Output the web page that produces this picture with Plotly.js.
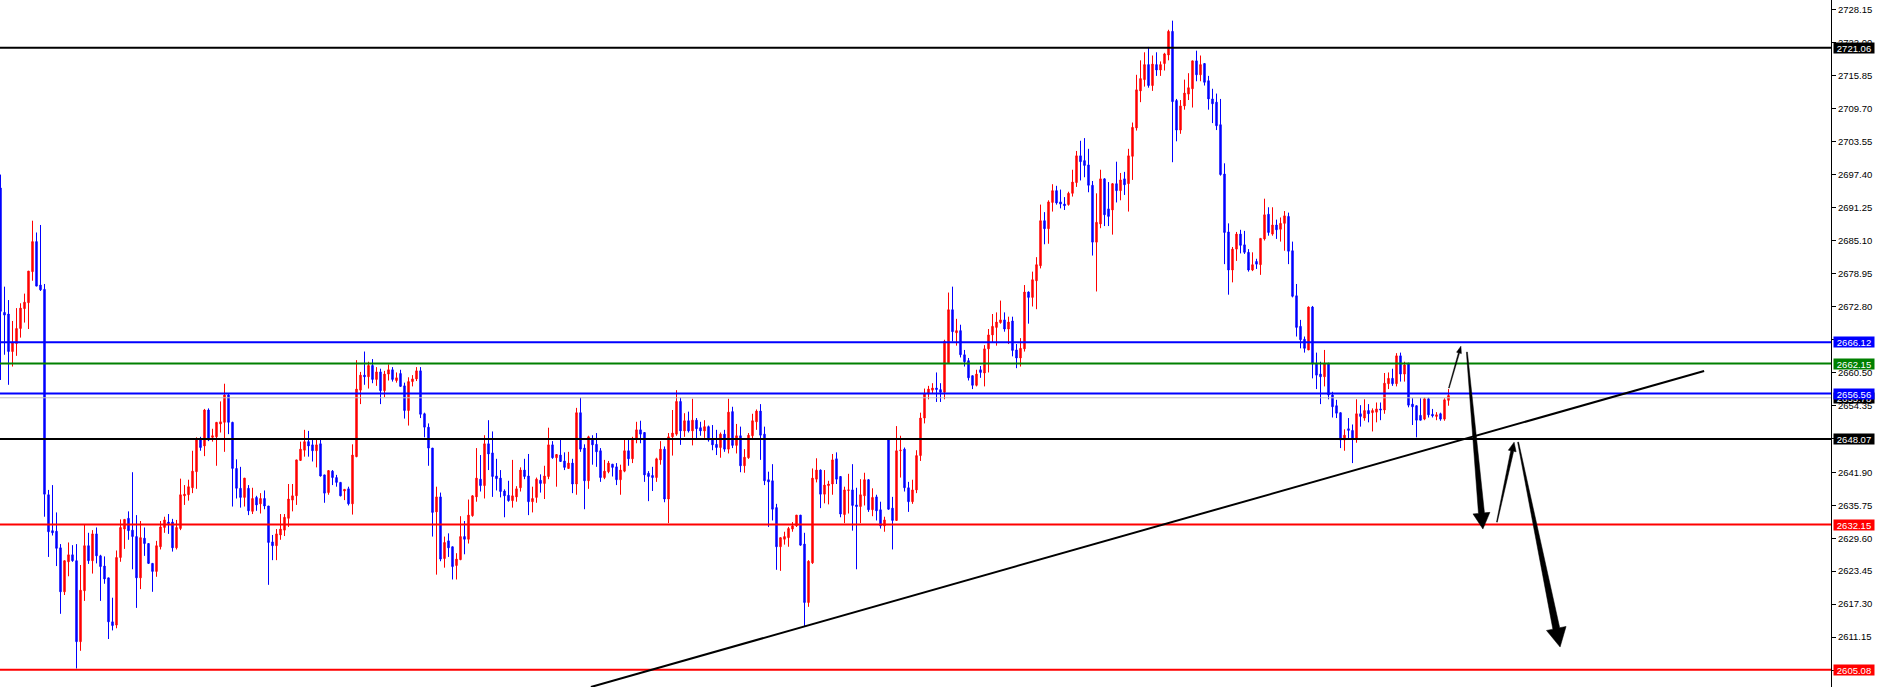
<!DOCTYPE html>
<html>
<head>
<meta charset="utf-8">
<script src="https://cdn.plot.ly/plotly-3.0.1.min.js"></script>
<style>
html,body{margin:0;padding:0;background:#fff;}
#chart{width:1878px;height:687px;}
</style>
</head>
<body>
<div id="chart"></div>
<script>
// ---- candle data (one bar per period, left to right) ----
const open = [
2694.9,2671.7,2671.4,2664.4,2665.9,2668.7,2672.4,2673.5,2679.3,2684.9,
2676.8,2676.0,2637.7,2631.0,2630.9,2627.8,2619.6,2625.2,2626.5,2625.4,
2610.3,2619.8,2628.2,2625.4,2630.4,2626.3,2624.4,2622.2,2614.0,2613.4,
2626.0,2631.3,2633.3,2631.1,2629.9,2622.2,2629.6,2628.6,2624.9,2623.4,
2628.0,2631.6,2632.6,2632.6,2627.8,2631.4,2637.5,2637.7,2639.0,2642.0,
2647.9,2646.8,2653.5,2648.4,2648.5,2650.9,2651.2,2656.3,2651.2,2642.6,
2638.9,2637.2,2638.9,2634.6,2637.2,2636.0,2637.0,2635.6,2628.9,2628.2,
2630.2,2631.1,2633.3,2636.7,2637.5,2644.1,2646.0,2647.6,2647.0,2645.9,
2647.2,2641.4,2638.1,2642.1,2640.9,2640.0,2638.4,2638.8,2636.0,2644.8,
2657.2,2660.0,2659.7,2661.8,2659.2,2660.6,2657.1,2660.2,2661.0,2659.0,
2660.3,2658.0,2653.4,2658.8,2659.3,2660.8,2652.8,2650.3,2646.4,2634.5,
2637.3,2625.8,2629.1,2628.0,2624.5,2625.6,2629.9,2629.4,2633.8,2637.3,
2640.6,2639.4,2647.2,2645.5,2641.2,2640.8,2638.4,2637.6,2636.6,2637.3,
2639.0,2642.3,2641.2,2636.4,2637.2,2640.4,2639.8,2641.1,2647.0,2644.6,
2645.1,2644.0,2642.6,2643.6,2639.7,2653.0,2646.4,2640.3,2648.1,2647.1,
2645.9,2640.9,2642.0,2643.4,2642.9,2640.5,2642.1,2645.9,2644.4,2648.2,
2649.8,2649.3,2641.7,2641.3,2640.9,2644.2,2646.2,2636.9,2648.5,2649.0,
2655.1,2649.6,2651.5,2649.6,2651.6,2650.2,2649.6,2650.4,2647.9,2647.1,
2646.5,2649.0,2646.2,2653.2,2646.9,2648.7,2643.1,2644.6,2648.7,2651.3,
2653.3,2649.0,2640.5,2640.3,2635.3,2628.0,2629.4,2629.7,2631.3,2631.9,
2633.9,2628.5,2617.6,2625.0,2640.6,2642.3,2637.8,2639.4,2639.7,2644.4,
2641.1,2634.0,2638.5,2638.6,2635.8,2635.5,2637.5,2640.5,2634.9,2637.3,
2634.9,2631.9,2647.9,2635.2,2632.9,2645.9,2646.2,2639.0,2636.4,2638.6,
2645.0,2652.0,2656.5,2657.2,2657.6,2657.3,2656.8,2662.3,2672.2,2667.9,
2668.3,2663.8,2662.7,2659.9,2658.1,2661.0,2660.4,2664.9,2667.5,2668.9,
2669.8,2670.3,2668.6,2670.1,2664.7,2663.2,2664.9,2675.5,2674.5,2677.6,
2680.4,2688.8,2687.3,2692.2,2694.4,2692.3,2691.9,2691.8,2693.9,2695.9,
2700.9,2700.0,2699.2,2695.4,2684.8,2688.2,2696.6,2691.0,2690.8,2695.7,
2694.4,2696.6,2695.7,2700.8,2706.1,2713.0,2715.1,2717.9,2714.0,2717.9,
2716.9,2718.1,2719.7,2724.1,2711.2,2705.7,2710.2,2712.4,2713.4,2718.6,
2716.0,2718.1,2714.9,2711.5,2710.9,2706.7,2697.5,2686.7,2679.6,2683.5,
2686.3,2684.3,2682.9,2679.6,2681.2,2680.6,2685.4,2690.0,2686.3,2688.0,
2687.2,2688.3,2689.6,2683.2,2674.8,2669.1,2666.7,2664.7,2672.7,2662.2,
2660.2,2659.7,2662.2,2656.3,2654.3,2653.0,2647.9,2650.0,2649.7,2648.0,
2652.8,2652.0,2653.4,2653.0,2653.1,2653.7,2653.5,2658.4,2659.4,2658.4,
2663.6,2660.2,2662.2,2654.6,2654.3,2652.5,2651.8,2655.6,2652.7,2652.3,
2652.8,2651.8,2655.3
];
const high = [
2697.4,2676.5,2674.0,2670.1,2672.5,2673.4,2675.2,2679.4,2688.8,2686.6,
2688.0,2677.0,2638.6,2639.5,2634.4,2628.5,2625.4,2628.8,2628.3,2628.5,
2624.6,2632.2,2630.6,2631.1,2631.6,2626.5,2626.2,2622.2,2618.5,2627.3,
2633.1,2633.1,2634.6,2641.9,2633.9,2632.8,2631.6,2628.6,2624.9,2629.1,
2632.8,2633.6,2634.1,2633.2,2633.0,2640.7,2639.5,2640.5,2645.9,2648.4,
2648.5,2653.7,2653.8,2650.0,2651.2,2655.1,2658.4,2656.6,2651.3,2644.3,
2642.9,2640.8,2639.5,2639.0,2637.5,2638.0,2638.5,2635.6,2630.2,2631.3,
2634.1,2634.1,2639.7,2639.7,2644.2,2647.6,2649.8,2649.6,2647.9,2647.9,
2648.0,2641.4,2642.3,2642.3,2641.4,2640.0,2638.7,2639.2,2647.1,2662.8,
2660.6,2664.4,2662.5,2663.0,2661.5,2661.2,2660.8,2662.0,2661.5,2660.5,
2661.0,2658.6,2659.6,2660.0,2661.5,2661.5,2653.0,2651.0,2646.4,2639.2,
2638.1,2629.9,2630.5,2628.0,2626.8,2633.7,2632.8,2636.8,2637.6,2646.4,
2645.1,2648.8,2651.6,2649.5,2644.4,2642.3,2638.7,2640.3,2644.2,2639.3,
2642.8,2644.4,2645.3,2639.2,2640.9,2641.5,2643.1,2650.2,2647.7,2645.2,
2648.2,2645.6,2645.7,2644.4,2653.9,2655.8,2647.1,2648.7,2648.8,2649.2,
2646.4,2644.2,2644.0,2643.4,2643.6,2643.3,2648.1,2647.9,2648.5,2651.3,
2651.5,2649.3,2642.1,2642.9,2644.6,2647.7,2646.7,2649.2,2653.5,2657.2,
2655.8,2652.9,2653.2,2655.6,2652.0,2651.3,2651.6,2650.6,2650.7,2649.8,
2649.3,2649.8,2655.6,2654.1,2650.9,2650.4,2646.2,2649.2,2652.8,2653.6,
2654.6,2650.4,2642.0,2643.4,2636.0,2629.7,2630.8,2631.7,2632.6,2633.9,
2633.9,2630.6,2625.5,2642.6,2644.5,2642.4,2642.3,2640.3,2645.3,2645.6,
2641.1,2639.2,2641.6,2643.4,2639.0,2640.6,2641.8,2640.6,2638.9,2637.7,
2636.4,2633.6,2648.1,2637.3,2650.5,2648.7,2646.5,2640.1,2640.5,2646.0,
2653.0,2657.5,2658.0,2658.5,2660.5,2658.5,2666.6,2675.4,2676.5,2670.5,
2669.4,2664.7,2663.2,2659.9,2661.0,2661.7,2665.6,2668.6,2671.4,2671.7,
2673.9,2671.7,2670.9,2670.9,2665.8,2666.9,2676.8,2675.6,2679.3,2682.0,
2691.8,2690.4,2692.6,2695.6,2695.3,2694.6,2693.2,2694.2,2698.3,2701.8,
2703.7,2704.2,2702.2,2696.2,2693.9,2698.3,2696.7,2696.0,2695.8,2699.8,
2697.7,2697.9,2702.2,2707.1,2716.0,2718.7,2720.2,2721.2,2719.6,2720.2,
2718.5,2720.1,2724.4,2726.1,2711.5,2711.3,2715.1,2716.3,2718.6,2720.5,
2719.6,2718.1,2715.8,2713.4,2712.5,2711.5,2699.5,2688.3,2683.9,2686.7,
2687.1,2686.9,2683.5,2682.9,2681.7,2685.5,2692.9,2691.3,2691.3,2689.0,
2689.4,2690.6,2690.3,2684.9,2677.0,2670.3,2667.2,2672.8,2672.9,2664.2,
2662.5,2664.7,2662.3,2656.9,2655.4,2653.0,2649.9,2652.0,2650.8,2655.5,
2654.4,2655.5,2654.6,2653.8,2654.9,2654.9,2660.4,2660.5,2661.2,2664.1,
2664.2,2662.5,2662.3,2655.7,2654.3,2655.7,2655.8,2655.8,2653.7,2653.1,
2653.0,2655.7,2657.4
];
const low = [
2659.1,2663.8,2658.2,2661.6,2663.6,2667.0,2669.8,2668.6,2677.6,2676.6,
2675.7,2633.6,2626.1,2630.1,2624.4,2615.5,2619.0,2622.5,2625.2,2605.3,
2608.6,2617.9,2624.8,2623.0,2624.9,2617.9,2621.1,2610.8,2612.4,2612.8,
2625.2,2627.6,2629.3,2623.8,2616.6,2620.1,2626.3,2624.8,2619.6,2622.4,
2627.5,2630.6,2630.4,2627.1,2627.5,2631.1,2635.8,2636.6,2638.0,2638.8,
2645.9,2644.9,2647.7,2647.6,2643.1,2649.3,2645.7,2649.0,2635.5,2637.0,
2635.3,2635.5,2633.9,2634.1,2634.7,2634.2,2635.0,2620.9,2625.5,2625.5,
2629.3,2630.0,2631.7,2634.6,2635.8,2644.0,2644.8,2644.8,2643.9,2642.8,
2641.1,2636.2,2637.7,2639.5,2639.2,2637.4,2636.7,2635.7,2634.0,2644.7,
2654.6,2658.2,2657.5,2658.5,2658.0,2654.6,2655.9,2659.0,2658.8,2658.6,
2657.9,2651.9,2650.6,2657.9,2658.9,2652.0,2648.4,2643.1,2629.9,2622.8,
2625.3,2624.1,2626.1,2621.9,2621.9,2625.5,2626.6,2628.6,2633.6,2636.4,
2638.3,2637.0,2642.3,2637.3,2638.5,2637.2,2633.5,2636.4,2635.3,2636.4,
2638.3,2640.6,2633.9,2634.4,2636.2,2638.1,2636.9,2640.6,2644.4,2639.2,
2643.9,2642.3,2642.6,2638.0,2637.7,2645.7,2635.0,2638.8,2643.3,2642.9,
2640.1,2640.6,2641.7,2641.1,2639.5,2637.7,2641.9,2643.1,2643.6,2647.3,
2647.3,2640.1,2636.5,2638.4,2640.1,2643.3,2636.3,2632.4,2645.0,2648.7,
2647.0,2648.5,2649.3,2646.9,2647.9,2648.7,2648.3,2647.6,2646.0,2645.1,
2644.6,2645.7,2645.4,2646.4,2645.4,2641.9,2641.8,2644.4,2647.9,2649.8,
2644.2,2639.5,2631.7,2632.9,2623.7,2623.5,2628.4,2628.0,2630.8,2631.7,
2628.2,2613.1,2616.8,2624.8,2640.0,2635.2,2636.1,2635.9,2637.7,2639.7,
2633.5,2632.4,2634.2,2631.0,2623.8,2632.4,2635.7,2634.5,2633.7,2632.9,
2631.4,2630.8,2634.9,2627.5,2632.9,2640.9,2638.3,2634.5,2636.0,2638.0,
2644.0,2651.0,2655.5,2656.5,2655.0,2655.0,2655.5,2662.3,2666.3,2665.5,
2663.3,2661.6,2659.0,2657.4,2657.9,2659.5,2657.9,2660.5,2666.1,2665.5,
2669.6,2668.1,2665.8,2663.5,2661.3,2661.6,2664.4,2669.6,2672.8,2672.3,
2679.9,2684.4,2684.5,2690.5,2691.8,2691.1,2690.8,2691.6,2693.3,2695.1,
2696.3,2696.9,2694.1,2682.3,2675.6,2687.4,2687.8,2687.8,2686.2,2692.2,
2692.6,2693.6,2690.5,2696.4,2705.6,2710.9,2713.8,2713.6,2713.0,2715.8,
2715.8,2716.8,2718.7,2699.7,2703.6,2705.0,2709.5,2711.3,2709.9,2714.8,
2714.8,2714.0,2709.5,2707.0,2705.7,2697.2,2680.7,2675.0,2677.3,2681.3,
2682.7,2682.6,2679.3,2679.4,2679.8,2678.7,2685.1,2686.0,2686.0,2685.4,
2684.9,2683.2,2680.7,2674.5,2667.2,2665.0,2664.2,2664.7,2659.4,2657.4,
2654.6,2657.9,2655.5,2652.1,2652.0,2646.4,2645.9,2647.9,2643.6,2647.4,
2650.4,2651.5,2651.2,2649.5,2651.2,2651.6,2652.8,2657.4,2658.0,2657.9,
2658.8,2658.8,2654.0,2650.7,2648.4,2651.6,2651.6,2652.1,2652.1,2651.6,
2651.5,2651.5,2654.3
];
const close = [
2671.9,2671.2,2664.4,2666.1,2668.7,2672.5,2673.6,2679.4,2684.9,2676.6,
2675.9,2637.8,2630.8,2630.6,2627.7,2619.6,2625.4,2626.5,2625.4,2610.3,
2619.9,2628.2,2625.4,2630.4,2626.3,2624.3,2622.0,2614.0,2613.3,2626.0,
2631.6,2633.1,2631.0,2629.9,2622.2,2629.7,2628.6,2624.9,2623.4,2628.2,
2631.7,2633.0,2632.3,2627.8,2631.6,2637.7,2637.8,2639.2,2642.1,2647.9,
2646.5,2653.5,2647.9,2648.7,2651.2,2651.3,2656.3,2651.2,2642.6,2638.9,
2637.2,2640.8,2634.7,2637.0,2635.8,2637.0,2635.6,2628.8,2628.2,2630.4,
2631.3,2633.5,2636.9,2637.5,2644.2,2646.2,2647.6,2646.8,2645.9,2647.0,
2641.2,2638.0,2642.2,2640.9,2640.0,2637.5,2638.7,2636.0,2645.1,2657.4,
2660.0,2659.7,2661.8,2659.2,2660.6,2657.1,2660.2,2661.0,2659.2,2659.5,
2657.9,2653.4,2658.8,2659.3,2660.8,2652.7,2650.3,2646.4,2634.4,2637.3,
2625.7,2628.8,2627.8,2624.3,2625.7,2629.9,2629.4,2633.9,2637.5,2640.8,
2639.4,2647.2,2645.3,2641.1,2640.7,2638.3,2637.5,2636.6,2637.5,2638.8,
2642.3,2641.1,2636.4,2637.0,2640.6,2639.8,2641.2,2647.0,2644.6,2645.2,
2643.9,2642.8,2643.6,2639.7,2653.0,2646.2,2640.3,2648.5,2647.0,2645.7,
2640.9,2642.1,2643.6,2642.8,2640.5,2642.3,2645.9,2644.4,2648.2,2649.8,
2649.0,2641.4,2641.1,2640.9,2644.4,2646.2,2636.9,2648.5,2649.2,2655.1,
2649.6,2651.5,2649.6,2651.6,2650.0,2649.6,2650.4,2647.9,2647.0,2646.5,
2649.0,2646.2,2653.1,2646.9,2648.7,2643.1,2644.7,2648.8,2651.5,2653.3,
2648.8,2640.3,2640.1,2635.0,2628.0,2629.7,2629.9,2631.4,2631.9,2633.9,
2628.3,2617.6,2625.3,2640.8,2642.3,2637.8,2639.5,2639.7,2644.2,2640.6,
2634.1,2638.6,2638.6,2635.7,2635.5,2637.7,2640.5,2634.9,2637.2,2634.7,
2631.9,2633.0,2635.0,2632.9,2645.9,2646.0,2639.0,2636.4,2638.6,2645.0,
2652.0,2656.5,2657.4,2657.6,2657.3,2656.8,2666.3,2672.2,2668.1,2668.3,
2663.8,2662.5,2659.5,2658.1,2660.2,2660.5,2664.9,2667.5,2669.1,2669.9,
2670.3,2668.6,2669.9,2664.6,2663.2,2665.0,2675.5,2674.5,2677.8,2680.6,
2688.8,2687.3,2692.3,2694.4,2692.1,2691.9,2691.6,2693.9,2696.0,2700.9,
2699.8,2699.1,2695.4,2684.8,2688.5,2696.6,2689.9,2689.6,2695.7,2694.4,
2696.4,2695.5,2700.9,2706.2,2713.2,2715.3,2717.9,2714.0,2718.0,2716.9,
2717.9,2719.9,2724.1,2711.0,2705.7,2710.2,2712.6,2713.6,2718.6,2716.0,
2717.9,2714.6,2711.5,2710.6,2706.5,2697.4,2686.6,2679.6,2683.5,2686.3,
2684.2,2682.9,2679.6,2680.6,2680.7,2685.5,2689.9,2686.6,2688.0,2687.1,
2688.3,2689.7,2683.1,2674.7,2668.9,2666.6,2665.0,2672.7,2662.1,2660.0,
2659.7,2662.2,2656.3,2654.1,2652.9,2647.9,2648.8,2649.7,2648.0,2652.8,
2652.3,2653.4,2652.8,2653.4,2653.7,2653.5,2658.5,2659.4,2658.4,2663.6,
2660.2,2661.9,2654.4,2654.1,2651.6,2651.6,2655.6,2652.6,2652.4,2652.6,
2651.8,2655.4,2656.2
];

// ---- horizontal price levels (value, colour) ----
const levelValues = [2721.06, 2666.12, 2662.15, 2656.56, 2648.07, 2632.15, 2605.08];
const levelColors = ['#000000', '#0000FF', '#008000', '#0000FF', '#000000', '#FF0000', '#FF0000'];
const bidValue = 2655.78;   // grey current-price line

// ---- y axis tick labels ----
const tickValues = [2728.15, 2722.00, 2715.85, 2709.70, 2703.55, 2697.40, 2691.25, 2685.10,
  2678.95, 2672.80, 2666.65, 2660.50, 2654.35, 2648.20, 2641.90, 2635.75, 2629.60, 2623.45,
  2617.30, 2611.15, 2605.00];

// ---- trend line (bar index, price) ----
const trendStart = [147.6, 2601.85];
const trendEnd = [425.9, 2660.77];

// ---- hand-drawn forecast arrows: [tail, tip] in (bar index, price) ----
const arrowPaths = [
  {tail: [362.1, 2657.6], tip: [365.1, 2665.4], w0: 0.8, w1: 1.2, hw: 5, hl: 7},
  {tail: [366.6, 2664.3], tip: [370.6, 2631.3], w0: 1.0, w1: 6, hw: 17, hl: 16},
  {tail: [374.1, 2632.6], tip: [378.4, 2647.5], w0: 0.8, w1: 3, hw: 8, hl: 9},
  {tail: [379.4, 2647.5], tip: [389.9, 2609.3], w0: 1.0, w1: 7, hw: 20, hl: 19}
];

// ---- axes geometry ----
const W = 1878, H = 687, MR = 47;
const PW = W - MR, PH = H;
const X0 = -0.125, X1 = X0 + PW / 4;
const Y0 = 2601.85, Y1 = 2729.95;

const xIdx = open.map((_, i) => i);

function d2p(x, y) { return [(x - X0) / (X1 - X0) * PW, (Y1 - y) / (Y1 - Y0) * PH]; }
function p2d(px, py) { return [X0 + px / PW * (X1 - X0), Y1 - py / PH * (Y1 - Y0)]; }

function arrowShape(a) {
  const t = d2p(a.tail[0], a.tail[1]);
  const p = d2p(a.tip[0], a.tip[1]);
  const dx = p[0] - t[0], dy = p[1] - t[1];
  const L = Math.hypot(dx, dy);
  const ux = dx / L, uy = dy / L, nx = -uy, ny = ux;
  const bx = p[0] - ux * a.hl, by = p[1] - uy * a.hl;
  const pts = [
    [t[0] + nx * a.w0 / 2, t[1] + ny * a.w0 / 2],
    [bx + nx * a.w1 / 2, by + ny * a.w1 / 2],
    [bx + nx * a.hw / 2, by + ny * a.hw / 2],
    [p[0], p[1]],
    [bx - nx * a.hw / 2, by - ny * a.hw / 2],
    [bx - nx * a.w1 / 2, by - ny * a.w1 / 2],
    [t[0] - nx * a.w0 / 2, t[1] - ny * a.w0 / 2]
  ].map(q => p2d(q[0], q[1]));
  const path = 'M' + pts.map(q => q[0].toFixed(4) + ',' + q[1].toFixed(4)).join(' L') + ' Z';
  return {type: 'path', xref: 'x', yref: 'y', path: path, fillcolor: '#000000',
          line: {color: '#000000', width: 0.5}, layer: 'above'};
}

const shapes = [];
shapes.push({type: 'line', xref: 'paper', x0: 0, x1: 1, yref: 'y', y0: bidValue, y1: bidValue,
             line: {color: '#C0C0C0', width: 1}, layer: 'above'});
levelValues.forEach((v, i) => {
  shapes.push({type: 'line', xref: 'paper', x0: 0, x1: 1, yref: 'y', y0: v, y1: v,
               line: {color: levelColors[i], width: 2}, layer: 'above'});
});
shapes.push({type: 'line', xref: 'x', yref: 'y', x0: trendStart[0], y0: trendStart[1],
             x1: trendEnd[0], y1: trendEnd[1], line: {color: '#000000', width: 2}, layer: 'above'});
arrowPaths.forEach(a => shapes.push(arrowShape(a)));

const labelFont = {family: 'Liberation Sans, Arial, sans-serif', size: 9.5, color: '#FFFFFF'};
const annotations = [];
annotations.push({xref: 'paper', x: 1, xanchor: 'left', xshift: 2, yref: 'y', y: bidValue,
                  yanchor: 'middle', text: bidValue.toFixed(2), showarrow: false, font: labelFont,
                  bgcolor: '#000000', width: 40, height: 10, borderpad: 0, align: 'center'});
levelValues.forEach((v, i) => {
  annotations.push({xref: 'paper', x: 1, xanchor: 'left', xshift: 2, yref: 'y', y: v,
                    yanchor: 'middle', text: v.toFixed(2), showarrow: false, font: labelFont,
                    bgcolor: levelColors[i], width: 40, height: 10, borderpad: 0, align: 'center'});
});

const trace = {
  type: 'candlestick',
  x: xIdx, open: open, high: high, low: low, close: close,
  increasing: {line: {color: '#FF0000', width: 1}, fillcolor: '#FF0000'},
  decreasing: {line: {color: '#0000FF', width: 1}, fillcolor: '#0000FF'},
  whiskerwidth: 0,
  hoverinfo: 'skip',
  showlegend: false
};

const layout = {
  width: W, height: H,
  margin: {l: 0, r: MR, t: 0, b: 0, pad: 0},
  paper_bgcolor: '#FFFFFF', plot_bgcolor: '#FFFFFF',
  showlegend: false,
  hovermode: false,
  boxgap: 0.5,
  xaxis: {range: [X0, X1], showgrid: false, zeroline: false, showticklabels: false,
          showline: false, ticks: '', rangeslider: {visible: false}, fixedrange: true},
  yaxis: {range: [Y0, Y1], side: 'right', showgrid: false, zeroline: false,
          showline: true, linecolor: '#000000', linewidth: 1,
          ticks: 'outside', ticklen: 4, tickcolor: '#000000', tickwidth: 1,
          tickvals: tickValues, ticktext: tickValues.map(v => v.toFixed(2)),
          tickfont: {family: 'Liberation Sans, Arial, sans-serif', size: 9.5, color: '#000000'},
          fixedrange: true},
  shapes: shapes,
  annotations: annotations
};

Plotly.newPlot('chart', [trace], layout, {displayModeBar: false, staticPlot: true});
</script>
</body>
</html>
